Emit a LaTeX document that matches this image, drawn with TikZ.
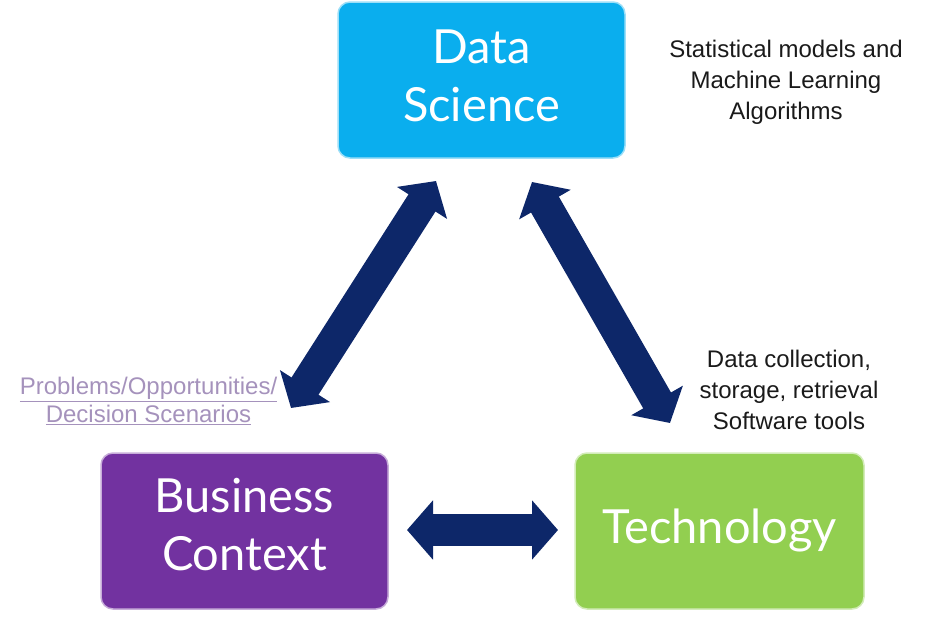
\documentclass[tikz,border=0pt]{standalone}
\usepackage{fontspec}
\setmainfont{Liberation Sans}
\newfontfamily\boxfont{Lato}
\usetikzlibrary{arrows.meta}
\definecolor{dsblue}{HTML}{0AAEEE}
\definecolor{bcpurple}{HTML}{7232A0}
\definecolor{tegreen}{HTML}{92CF50}
\definecolor{navy}{HTML}{0D2769}
\definecolor{lav}{HTML}{A592BC}
\definecolor{notegray}{HTML}{1A1A1A}
\begin{document}
\begin{tikzpicture}[x=1pt,y=-1pt,
  bigbox/.style={rounded corners=12pt, line width=1.5pt, inner sep=0pt},
  boxtext/.style={text=white, font=\boxfont\fontsize{47}{58}\selectfont, align=center},
  note/.style={text=notegray, font=\fontsize{24}{31}\selectfont, align=center},
  dblarrow/.style={navy, line width=32pt, {Triangle[length=26pt,width=58pt]}-{Triangle[length=26pt,width=58pt]}}]
\useasboundingbox (0,0) rectangle (933,621);
% boxes
\filldraw[bigbox, fill=dsblue, draw=dsblue!40] (338,2) rectangle (625,158);
\node[boxtext] (ds) at (481.5,76) {Data\\Science};
\filldraw[bigbox, fill=bcpurple, draw=bcpurple!40] (101,453) rectangle (388,609);
\node[boxtext] (bc) at (244.5,525) {Business\\Context};
\filldraw[bigbox, fill=tegreen, draw=tegreen!40] (575,453) rectangle (864,609);
\node[boxtext] (te) at (719.5,530) {Technology};
% arrows
\coordinate (l1) at (291,408);
\coordinate (l2) at (436,181);
\coordinate (r1) at (532,182);
\coordinate (r2) at (670,423);
\coordinate (h1) at (407,530);
\coordinate (h2) at (558,530);
\draw[dblarrow] (l1) -- (l2);
\draw[dblarrow] (r1) -- (r2);
\draw[dblarrow] (h1) -- (h2);
% notes
\node[note] (n1) at (786,82) {Statistical models and\\Machine Learning\\Algorithms};
\node[note] (n2) at (789,390) {Data collection,\\storage, retrieval\\Software tools};
\node[note, text=lav, font=\fontsize{24}{28}\selectfont] (n3) at (148.5,401) {\underline{Problems/Opportunities/}\\\underline{Decision Scenarios}};
\end{tikzpicture}
\end{document}
